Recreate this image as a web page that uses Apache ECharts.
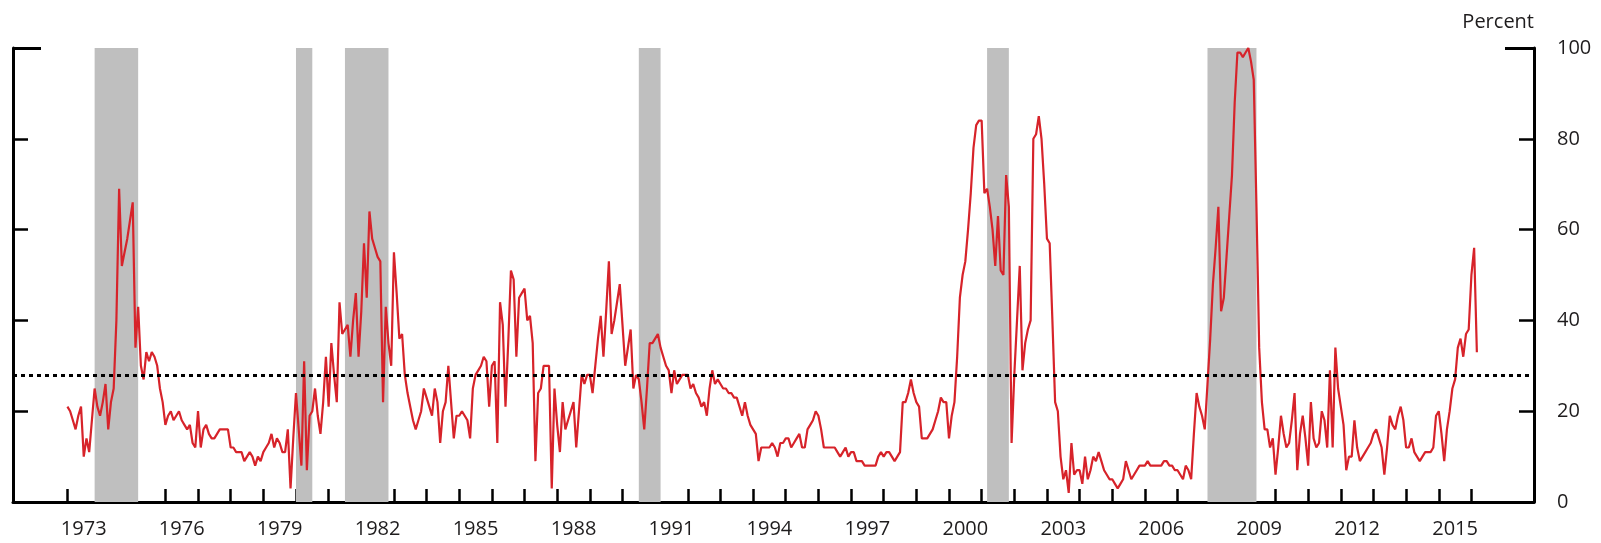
<!DOCTYPE html>
<html><head><meta charset="utf-8">
<script src="https://cdn.jsdelivr.net/npm/echarts@6/dist/echarts.min.js"></script>
<style>html,body{margin:0;padding:0;background:#fff}#c{width:1601px;height:543px}</style>
</head><body><div id="c"></div>
<script>
// axis span (monthly categories)
const axisStart = [1971, 5];
const axisEnd = [2017, 12];
const dataStart = '1973-01';
// monthly values, percent, Jan 1973 - Mar 2016
const values = [
  21,20,18,16,19,21,10,14,11,18,25,21,   // 1973
  19,22,26,16,22,25,40,69,52,55,58,62,   // 1974
  66,34,43,30,27,33,31,33,32,30,25,22,   // 1975
  17,19,20,18,19,20,18,17,16,17,13,12,   // 1976
  20,12,16,17,15,14,14,15,16,16,16,16,   // 1977
  12,12,11,11,11,9,10,11,10,8,10,9,      // 1978
  11,12,13,15,12,14,13,11,11,16,3,14,    // 1979
  24,16,8,31,7,19,20,25,19,15,22,32,     // 1980
  21,35,28,22,44,37,38,39,32,40,46,32,   // 1981
  42,57,45,64,58,56,54,53,22,43,35,30,   // 1982
  55,46,36,37,28,24,21,18,16,18,20,25,   // 1983
  23,21,19,25,22,13,20,22,30,22,14,19,   // 1984
  19,20,19,18,14,25,28,29,30,32,31,21,   // 1985
  30,31,13,44,39,21,35,51,49,32,45,46,   // 1986
  47,40,41,35,9,24,25,30,30,30,3,25,     // 1987
  17,11,22,16,18,20,22,12,20,28,26,28,   // 1988
  28,24,30,36,41,32,42,53,37,40,44,48,   // 1989
  39,30,34,38,25,28,27,22,16,25,35,35,   // 1990
  36,37,34,32,30,29,24,29,26,27,28,28,   // 1991
  28,25,26,24,23,21,22,19,25,29,26,27,   // 1992
  26,25,25,24,24,23,23,21,19,22,19,17,   // 1993
  16,15,9,12,12,12,12,13,12,10,13,13,    // 1994
  14,14,12,13,14,15,12,12,16,17,18,20,   // 1995
  19,16,12,12,12,12,12,11,10,11,12,10,   // 1996
  11,11,9,9,9,8,8,8,8,8,10,11,           // 1997
  10,11,11,10,9,10,11,22,22,24,27,24,    // 1998
  22,21,14,14,14,15,16,18,20,23,22,22,   // 1999
  14,19,22,32,45,50,53,60,68,78,83,84,   // 2000
  84,68,69,65,60,52,63,51,50,72,65,13,   // 2001
  28,40,52,29,35,38,40,80,81,85,80,70,   // 2002
  58,57,40,22,20,10,5,7,2,13,6,7,        // 2003
  7,4,10,5,7,10,9,11,9,7,6,5,            // 2004
  5,4,3,4,5,9,7,5,6,7,8,8,               // 2005
  8,9,8,8,8,8,8,9,9,8,8,7,               // 2006
  7,6,5,8,7,5,15,24,21,19,16,26,         // 2007
  36,48,56,65,42,45,54,63,72,88,99,99,   // 2008
  98,99,100,97,93,65,34,22,16,16,12,14,  // 2009
  6,12,19,15,12,13,18,24,7,15,19,14,     // 2010
  8,22,14,12,13,20,18,12,29,12,34,25,    // 2011
  21,17,7,10,10,18,12,9,10,11,12,13,     // 2012
  15,16,14,12,6,12,19,17,16,19,21,18,    // 2013
  12,12,14,11,10,9,10,11,11,11,12,19,    // 2014
  20,15,9,16,20,25,27,34,36,32,37,38,    // 2015
  50,56,33                               // 2016
];
const recessions = [
  ['1973-11','1975-03'], ['1980-01','1980-07'], ['1981-07','1982-11'],
  ['1990-07','1991-03'], ['2001-03','2001-11'], ['2007-12','2009-06']
];
const labelYears = ['1973','1976','1979','1982','1985','1988','1991','1994','1997','2000','2003','2006','2009','2012','2015'];
const tickFirstYear = 1973, tickLastYear = 2016;
const threshold = 28;

function pad(n){return (n<10?'0':'')+n;}
const categories = [];
for (let y = axisStart[0], m = axisStart[1]; y < axisEnd[0] || (y === axisEnd[0] && m <= axisEnd[1]); ) {
  categories.push(y + '-' + pad(m));
  m++; if (m > 12) { m = 1; y++; }
}
const offset = categories.indexOf(dataStart);
const seriesData = categories.map((c, i) => (i >= offset && i - offset < values.length) ? values[i - offset] : null);

const FONT = 'Open Sans';
const TXT = '#1e1c1d';
const chart = echarts.init(document.getElementById('c'));
const yBase = {
  type: 'value', min: 0, max: 100, interval: 20,
  axisLine: {show: true, lineStyle: {color: '#000', width: 3}},
  axisTick: {show: true, inside: true, length: 15, lineStyle: {color: '#000', width: 2.5}},
  splitLine: {show: false}
};
chart.setOption({
  animation: false,
  grid: {left: 13, right: 67, top: 48, bottom: 41, containLabel: false},
  xAxis: {
    type: 'category', data: categories, boundaryGap: false,
    axisLine: {lineStyle: {color: '#000', width: 3}},
    axisTick: {
      inside: true, length: 13, lineStyle: {color: '#000', width: 2.5},
      interval: function (i, v) { const y = +v.slice(0, 4); return v.slice(5) === '01' && y >= tickFirstYear && y <= tickLastYear; }
    },
    axisLabel: {
      interval: function (i, v) { return v.slice(5) === '07' && labelYears.indexOf(v.slice(0, 4)) >= 0; },
      formatter: function (v) { return v.slice(0, 4); },
      margin: 17, color: TXT, fontFamily: FONT, fontSize: 20, hideOverlap: false
    },
    splitLine: {show: false}
  },
  yAxis: [
    Object.assign({}, yBase, {position: 'left', axisLabel: {show: false}}),
    Object.assign({}, yBase, {
      position: 'right',
      axisLabel: {show: true, margin: 23, color: TXT, fontFamily: FONT, fontSize: 20},
      name: 'Percent', nameLocation: 'end', nameGap: 26,
      nameTextStyle: {color: TXT, fontFamily: FONT, fontSize: 20, align: 'right', verticalAlign: 'middle'}
    }),
    {type: 'value', min: 0, max: 100, interval: 100, position: 'left',
     axisLine: {show: false}, axisLabel: {show: false}, splitLine: {show: false},
     axisTick: {show: true, inside: true, length: 28, lineStyle: {color: '#000', width: 3}}},
    {type: 'value', min: 0, max: 100, interval: 100, position: 'right',
     axisLine: {show: false}, axisLabel: {show: false}, splitLine: {show: false},
     axisTick: {show: true, inside: true, length: 29, lineStyle: {color: '#000', width: 3}}}
  ],
  series: [{
    type: 'line', data: seriesData, yAxisIndex: 0, showSymbol: false, symbol: 'none',
    lineStyle: {color: '#d7232a', width: 2.2}, connectNulls: false,
    markArea: {
      silent: true,
      itemStyle: {color: '#bfbfbf'},
      data: recessions.map(r => [{xAxis: r[0]}, {xAxis: r[1]}])
    },
    markLine: {
      silent: true, symbol: 'none', label: {show: false},
      lineStyle: {color: '#000', width: 3, type: [4, 4]},
      data: [{yAxis: threshold}]
    },
    z: 3
  }]
});
</script></body></html>
